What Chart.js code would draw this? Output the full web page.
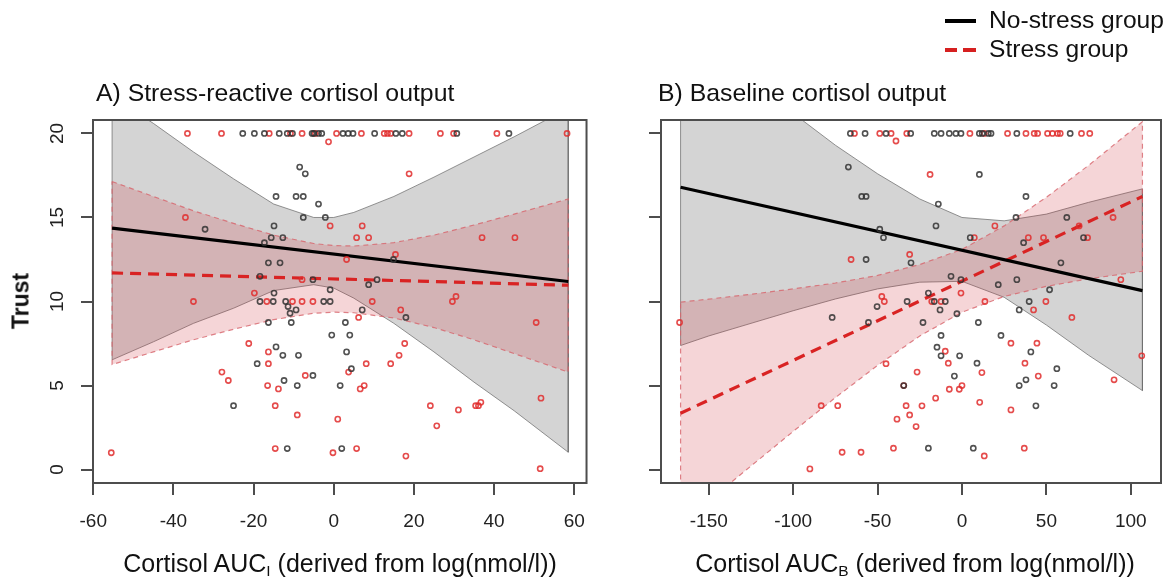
<!DOCTYPE html>
<html><head><meta charset="utf-8">
<script src="https://cdn.jsdelivr.net/npm/chart.js@4.4.1/dist/chart.umd.min.js"></script>
<style>
html,body{margin:0;padding:0;background:#fff;}
#wrap{position:relative;width:1174px;height:579px;overflow:hidden;font-family:"Liberation Sans",Arial,Helvetica,sans-serif;color:#111;}
canvas{position:absolute;top:0;}
.t{position:absolute;white-space:nowrap;line-height:1;}
.sub{font-size:62%;position:relative;top:0.28em;}
.lg{position:absolute;height:4px;}
</style></head>
<body><div id="wrap">
<canvas id="cA" width="600" height="579" style="left:0px"></canvas>
<canvas id="cB" width="574" height="579" style="left:600px"></canvas>
<div class="t" style="left:96px;top:81px;font-size:24.8px">A) Stress-reactive cortisol output</div>
<div class="t" style="left:658px;top:81px;font-size:24.8px">B) Baseline cortisol output</div>
<div class="t" style="left:340px;top:551px;font-size:25px;transform:translateX(-50%)">Cortisol AUC<span class="sub">I</span> (derived from log(nmol/l))</div>
<div class="t" style="left:915px;top:551px;font-size:25px;transform:translateX(-50%)">Cortisol AUC<span class="sub">B</span> (derived from log(nmol/l))</div>
<div class="t" style="left:21px;top:301px;font-size:23px;font-weight:bold;transform:translate(-50%,-50%) rotate(-90deg)">Trust</div>
<div class="lg" style="left:945px;top:19px;width:31px;background:#000"></div>
<div class="lg" style="left:945px;top:47.5px;width:12px;background:#d62020"></div>
<div class="lg" style="left:963px;top:47.5px;width:13px;background:#d62020"></div>
<div class="t" style="left:989px;top:8px;font-size:24.6px">No-stress group</div>
<div class="t" style="left:989px;top:37px;font-size:24.6px">Stress group</div>
</div>
<script>
// ---------- tick labels ----------
const xTicksA = [-60,-40,-20,0,20,40,60];
const xTicksB = [-150,-100,-50,0,50,100];
const yTicks = [0,5,10,15,20];

// ---------- Panel A: stress-reactive cortisol (x, trust) ----------
const noStressA = [
 [-22.7,20],[-19.8,20],[-17.3,20],[-13.6,20],[-11.6,20],[-10.3,20],[-5.4,20],[-5.0,20],[-3.8,20],[-3.0,20],
 [2.3,20],[3.6,20],[4.8,20],[10.2,20],[15.5,20],[17.1,20],[30.7,20],[43.7,20],
 [-8.5,18.0],[-7.1,17.6],[-14.4,16.25],[-9.4,16.25],[-7.6,16.25],[-3.8,15.8],[-7.6,15.0],[-2.1,15.0],
 [-14.9,14.5],[-32.1,14.3],[-15.6,13.8],[-12.7,13.8],[-17.3,13.5],[-16.3,12.3],[-13.4,12.3],[-18.4,11.5],
 [-5.2,11.3],[-14.9,10.5],[-18.4,10.0],[-15.1,10.0],[-12.0,10.0],[-2.5,10.0],[-11.4,9.7],[-10.9,9.3],
 [-9.4,9.5],[-16.3,8.75],[-10.6,8.75],[-14.4,7.3],[-12.7,6.8],[-8.8,6.8],[-19.1,6.3],[-5.2,5.6],
 [-12.4,5.3],[-9.1,5.0],[-25.0,3.8],[-11.6,1.25],
 [14.9,12.5],[-0.9,10.7],[8.7,11.0],[10.8,11.3],[-0.9,10.0],[7.1,9.5],[18.0,9.05],[2.9,8.75],
 [-0.5,8.0],[4.0,8.0],[3.2,7.0],[4.4,6.0],[1.6,5.0],[2.0,1.25]
];
const stressA = [
 [-36.5,20],[-28.0,20],[-16.1,20],[-10.8,20],[-7.9,20],[-4.6,20],[0.7,20],[6.9,20],[12.6,20],[13.4,20],
 [14.2,20],[18.8,20],[26.6,20],[29.9,20],[40.7,20],[58.2,20],[-1.3,19.5],
 [-37.0,15.0],[-7.9,11.3],[-19.8,10.5],[-35.0,10.0],[-16.7,10.0],[-10.3,10.0],[-7.9,10.0],[-5.2,10.0],
 [-21.2,7.5],[-16.3,7.0],[-16.3,6.3],[-27.9,5.8],[-26.3,5.3],[-7.1,5.6],[-16.5,5.0],[-13.8,4.8],
 [-14.6,3.8],[-9.1,3.25],[-55.5,1.0],[-14.6,1.25],
 [18.8,17.6],[-0.9,14.5],[7.1,14.5],[5.7,13.8],[8.7,13.8],[37.0,13.8],[45.2,13.8],[3.2,12.5],
 [15.4,12.8],[9.6,10.0],[29.6,10.0],[30.5,10.3],[6.2,9.05],[16.7,9.5],[50.5,8.75],[17.7,7.5],
 [16.3,6.8],[14.2,6.3],[8.1,6.3],[3.7,5.8],[6.6,4.8],[7.6,5.0],[24.1,3.8],[25.7,2.6],[31.1,3.55],
 [35.4,3.8],[36.1,3.8],[36.7,4.0],[51.7,4.25],[1.0,3.0],[-0.2,1.0],[5.7,1.25],[18.0,0.8],[51.5,0.05]
];
const lineAx = [-55.3, 58.5];
const noStressLineA = [14.37, 11.19];
const stressLineA = [11.7, 10.97];
const bandAx = [-55.3,-45,-35,-25,-15,-5,0,5,15,25,35,45,58.5];
const grayAUpper = [22.2,20.6,18.9,17.3,15.8,15.0,15.0,15.3,16.25,17.4,18.6,19.8,21.5];
const grayALower = [6.53,7.6,8.7,9.6,10.65,11.0,10.8,10.2,8.7,7.0,5.2,3.5,1.03];
const redAUpper = [17.14,16.25,15.4,14.65,13.95,13.45,13.33,13.3,13.5,13.95,14.55,15.2,16.1];
const redALower = [6.25,7.0,7.72,8.35,8.92,9.3,9.37,9.33,9.02,8.45,7.72,6.9,5.8];

// ---------- Panel B: baseline cortisol ----------
const noStressB = [
 [-66.1,20],[-57.4,20],[-45.0,20],[-30.4,20],[-16.4,20],[-12.4,20],[-7.5,20],[-3.6,20],[-0.6,20],[10.3,20],
 [12.0,20],[15.6,20],[17.2,20],[32.5,20],[64.1,20],
 [-67.3,18.0],[-59.4,16.25],[-56.8,16.25],[-48.7,14.3],[-46.5,13.8],[-56.8,12.5],[-30.2,12.3],[-50.3,9.7],
 [-32.5,10.0],[-76.9,9.05],[-55.4,8.75],[-34.5,5.0],
 [10.3,17.56],[37.9,16.25],[-14.0,15.8],[32.0,15.0],[62.1,15.0],[-15.4,14.5],[4.9,13.8],[36.5,13.5],
 [72.0,13.8],[58.6,12.3],[-6.5,11.5],[-0.6,11.3],[21.5,11.0],[32.5,11.3],[-19.9,10.5],[51.9,10.7],
 [-16.4,10.0],[-9.9,10.0],[39.8,10.0],[-13.0,9.5],[-3.0,9.27],[33.9,9.5],[-23.1,8.75],[9.7,8.75],
 [-12.4,7.98],[23.1,7.98],[-14.8,7.28],[-12.4,6.77],[-1.4,6.77],[40.8,7.0],[8.9,6.33],[56.2,6.0],
 [-4.5,5.56],[33.9,5.0],[37.9,5.34],[54.6,5.0],[43.8,3.79],[-19.9,1.27],[6.7,1.27]
];
const stressB = [
 [-63.7,20],[-48.7,20],[-42.0,20],[-32.7,20],[4.7,20],[13.2,20],[27.0,20],[37.9,20],[42.8,20],[44.8,20],
 [50.7,20],[53.6,20],[56.6,20],[58.2,20],[70.8,20],[75.7,20],[-39.1,19.55],
 [-65.7,12.5],[-31.0,12.8],[-47.5,10.3],[-46.0,10.0],[-167.3,8.75],[-45.0,6.3],[-26.6,5.8],[-34.5,5.0],
 [-83.4,3.8],[-73.6,3.8],[-33.1,3.8],[-38.5,3.0],[-31.0,3.25],[-27.2,2.56],[-71.0,1.03],[-59.8,1.03],
 [-40.6,1.27],[-90.1,0.04],
 [-18.9,17.56],[19.5,14.5],[89.5,15.0],[69.4,14.5],[7.3,13.8],[39.3,13.8],[48.3,13.8],[74.4,13.8],
 [94.1,11.3],[-0.6,10.5],[-17.9,10.0],[-12.4,10.0],[13.6,10.0],[49.7,10.0],[42.4,9.5],[65.1,9.05],
 [29.0,7.52],[44.4,7.52],[-9.9,7.04],[-8.1,6.33],[37.3,6.33],[106.5,6.77],[11.8,5.77],[-7.5,4.78],
 [-1.6,4.78],[0,5.0],[45.2,5.56],[90.1,5.34],[-15.6,4.25],[-23.7,3.79],[10.5,4.0],[29.0,3.55],
 [13.2,0.81],[36.9,1.27]
];
const lineBx = [-166.7, 106.9];
const noStressLineB = [16.8, 10.65];
const stressLineB = [3.35, 16.25];
const bandBx = [-166.7,-150,-125,-100,-75,-50,-25,0,25,50,75,106.9];
const grayBUpper = [26.2,24.9,23.0,21.2,19.3,17.6,16.1,15.0,14.8,15.2,15.9,16.7];
const grayBLower = [7.38,7.95,8.7,9.45,10.15,10.75,11.15,11.2,10.25,8.6,6.8,4.7];
const redBUpper = [9.96,10.14,10.43,10.75,11.1,11.55,12.2,13.1,14.5,16.2,18.1,20.7];
const redBLower = [-3.26,-1.86,0.21,2.27,4.28,6.2,7.95,9.36,10.3,10.9,11.35,11.8];

// ---------- helpers ----------
const FONT = '"Liberation Sans", Arial, Helvetica, sans-serif';
const pts = a => a.map(p => ({x:p[0], y:p[1]}));
const seg = (xs, ys) => xs.map((x,i) => ({x, y:ys[i]}));
function polygon(xs, up, lo){
  const d = xs.map((x,i)=>({x, y:up[i]}));
  for (let i = xs.length-1; i >= 0; i--) d.push({x:xs[i], y:lo[i]});
  d.push({x:xs[0], y:up[0]});
  return d;
}
const boxPlugin = {
  id:'box',
  afterDatasetsDraw(chart){
    const {ctx, chartArea:a} = chart;
    ctx.save(); ctx.strokeStyle='#4d4d4d'; ctx.lineWidth=2;
    ctx.strokeRect(a.left, a.top, a.right-a.left, a.bottom-a.top);
    ctx.restore();
  }
};
const yLabelPlugin = {
  id:'ylab',
  afterDraw(chart){
    const s = chart.scales.y, ctx = chart.ctx;
    ctx.save(); ctx.fillStyle='#222'; ctx.font='19px '+FONT;
    ctx.textAlign='center'; ctx.textBaseline='middle';
    s.ticks.forEach(t => {
      ctx.save(); ctx.translate(58, s.getPixelForValue(t.value)); ctx.rotate(-Math.PI/2);
      ctx.fillText(String(t.value), 0, 0); ctx.restore();
    });
    ctx.restore();
  }
};

function makeChart(id, cfg){
  const grid = {drawOnChartArea:false, drawTicks:true, tickLength:12, color:'#4d4d4d', lineWidth:2};
  return new Chart(document.getElementById(id), {
    type:'scatter',
    data:{datasets:[
      {data:pts(cfg.noStress), order:0, pointRadius:2.6, pointBorderWidth:1.6, borderColor:'rgba(50,50,50,0.85)', backgroundColor:'rgba(0,0,0,0)', pointStyle:'circle'},
      {data:pts(cfg.stress), order:0, pointRadius:2.6, pointBorderWidth:1.6, borderColor:'rgba(225,45,45,0.85)', backgroundColor:'rgba(0,0,0,0)', pointStyle:'circle'},
      {data:seg(cfg.lx, cfg.noLine), order:1, showLine:true, pointRadius:0, borderColor:'#000', borderWidth:3.2, clip:0},
      {data:seg(cfg.lx, cfg.stLine), order:1, showLine:true, pointRadius:0, borderColor:'#d92323', borderWidth:3.2, borderDash:[11,7], clip:0},
      {data:polygon(cfg.bx, cfg.rU, cfg.rL), order:2, showLine:true, pointRadius:0, fill:'shape', backgroundColor:'rgba(205,45,55,0.2)', borderColor:'rgba(215,100,108,0.8)', borderWidth:1.2, borderDash:[5,4], tension:0, clip:0},
      {data:polygon(cfg.bx, cfg.gU, cfg.gL), order:3, showLine:true, pointRadius:0, fill:'shape', backgroundColor:'rgba(0,0,0,0.17)', borderColor:'rgba(110,110,110,0.75)', borderWidth:1, tension:0, clip:0}
    ]},
    options:{
      responsive:false, animation:false, events:[],
      layout:{padding:{top:120, right:cfg.padR, left:0, bottom:0}},
      plugins:{legend:{display:false}, tooltip:{enabled:false}, title:{display:false}},
      scales:{
        x:{type:'linear', min:cfg.xmin, max:cfg.xmax,
           afterBuildTicks:s=>{ s.ticks = cfg.xt.map(v=>({value:v})); },
           afterFit:s=>{ s.height = 96; },
           ticks:{font:{size:19, family:FONT}, color:'#222', padding:15, maxRotation:0, minRotation:0, autoSkip:false, callback:v=>String(v)},
           grid, border:{display:false}},
        y:{type:'linear', min:-0.8, max:20.8,
           afterBuildTicks:s=>{ s.ticks = yTicks.map(v=>({value:v})); },
           afterFit:s=>{ s.width = cfg.yw; },
           ticks:{display:false},
           grid, border:{display:false}}
      }
    },
    plugins: cfg.ylabels ? [boxPlugin, yLabelPlugin] : [boxPlugin]
  });
}

makeChart('cA', {noStress:noStressA, stress:stressA, lx:lineAx, noLine:noStressLineA, stLine:stressLineA,
  bx:bandAx, gU:grayAUpper, gL:grayALower, rU:redAUpper, rL:redALower,
  xmin:-60.06, xmax:63.06, xt:xTicksA, yw:93, padR:7, ylabels:true});
makeChart('cB', {noStress:noStressB, stress:stressB, lx:lineBx, noLine:noStressLineB, stLine:stressLineB,
  bx:bandBx, gU:grayBUpper, gL:grayBLower, rU:redBUpper, rL:redBLower,
  xmin:-178.3, xmax:117.9, xt:xTicksB, yw:61, padR:13, ylabels:false});
</script>
</body></html>
